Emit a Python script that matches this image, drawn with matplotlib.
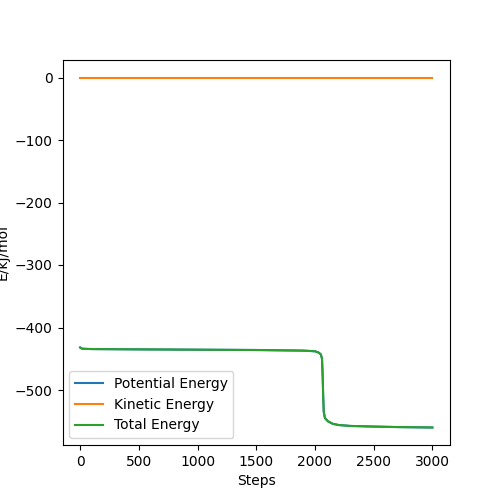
import numpy as np
import matplotlib
matplotlib.use("Agg")
import matplotlib.pyplot as plt

steps = [0, 20, 100, 500, 1000, 1500, 1900, 2000, 2030, 2050, 2060, 2066, 2070,
         2075, 2085, 2110, 2150, 2200, 2300, 2500, 2700, 3000]
total_energy = [-432, -434, -434.5, -435, -435.5, -436, -437, -438, -440, -443,
                -450, -480, -510, -535, -545, -550, -554, -556, -557.5, -558.5, -559.3, -560]
kinetic_energy = [0.0] * len(steps)
potential_energy = [t - k for t, k in zip(total_energy, kinetic_energy)]

fig = plt.figure(figsize=(5, 5), dpi=100)
ax = fig.add_subplot(111)
ax.plot(steps, potential_energy, label="Potential Energy")
ax.plot(steps, kinetic_energy, label="Kinetic Energy")
ax.plot(steps, total_energy, label="Total Energy")
ax.set_xlabel("Steps")
ax.set_ylabel("E/kJ/mol")
ax.legend(loc="lower left")

fig.savefig("out.png", dpi=100)
